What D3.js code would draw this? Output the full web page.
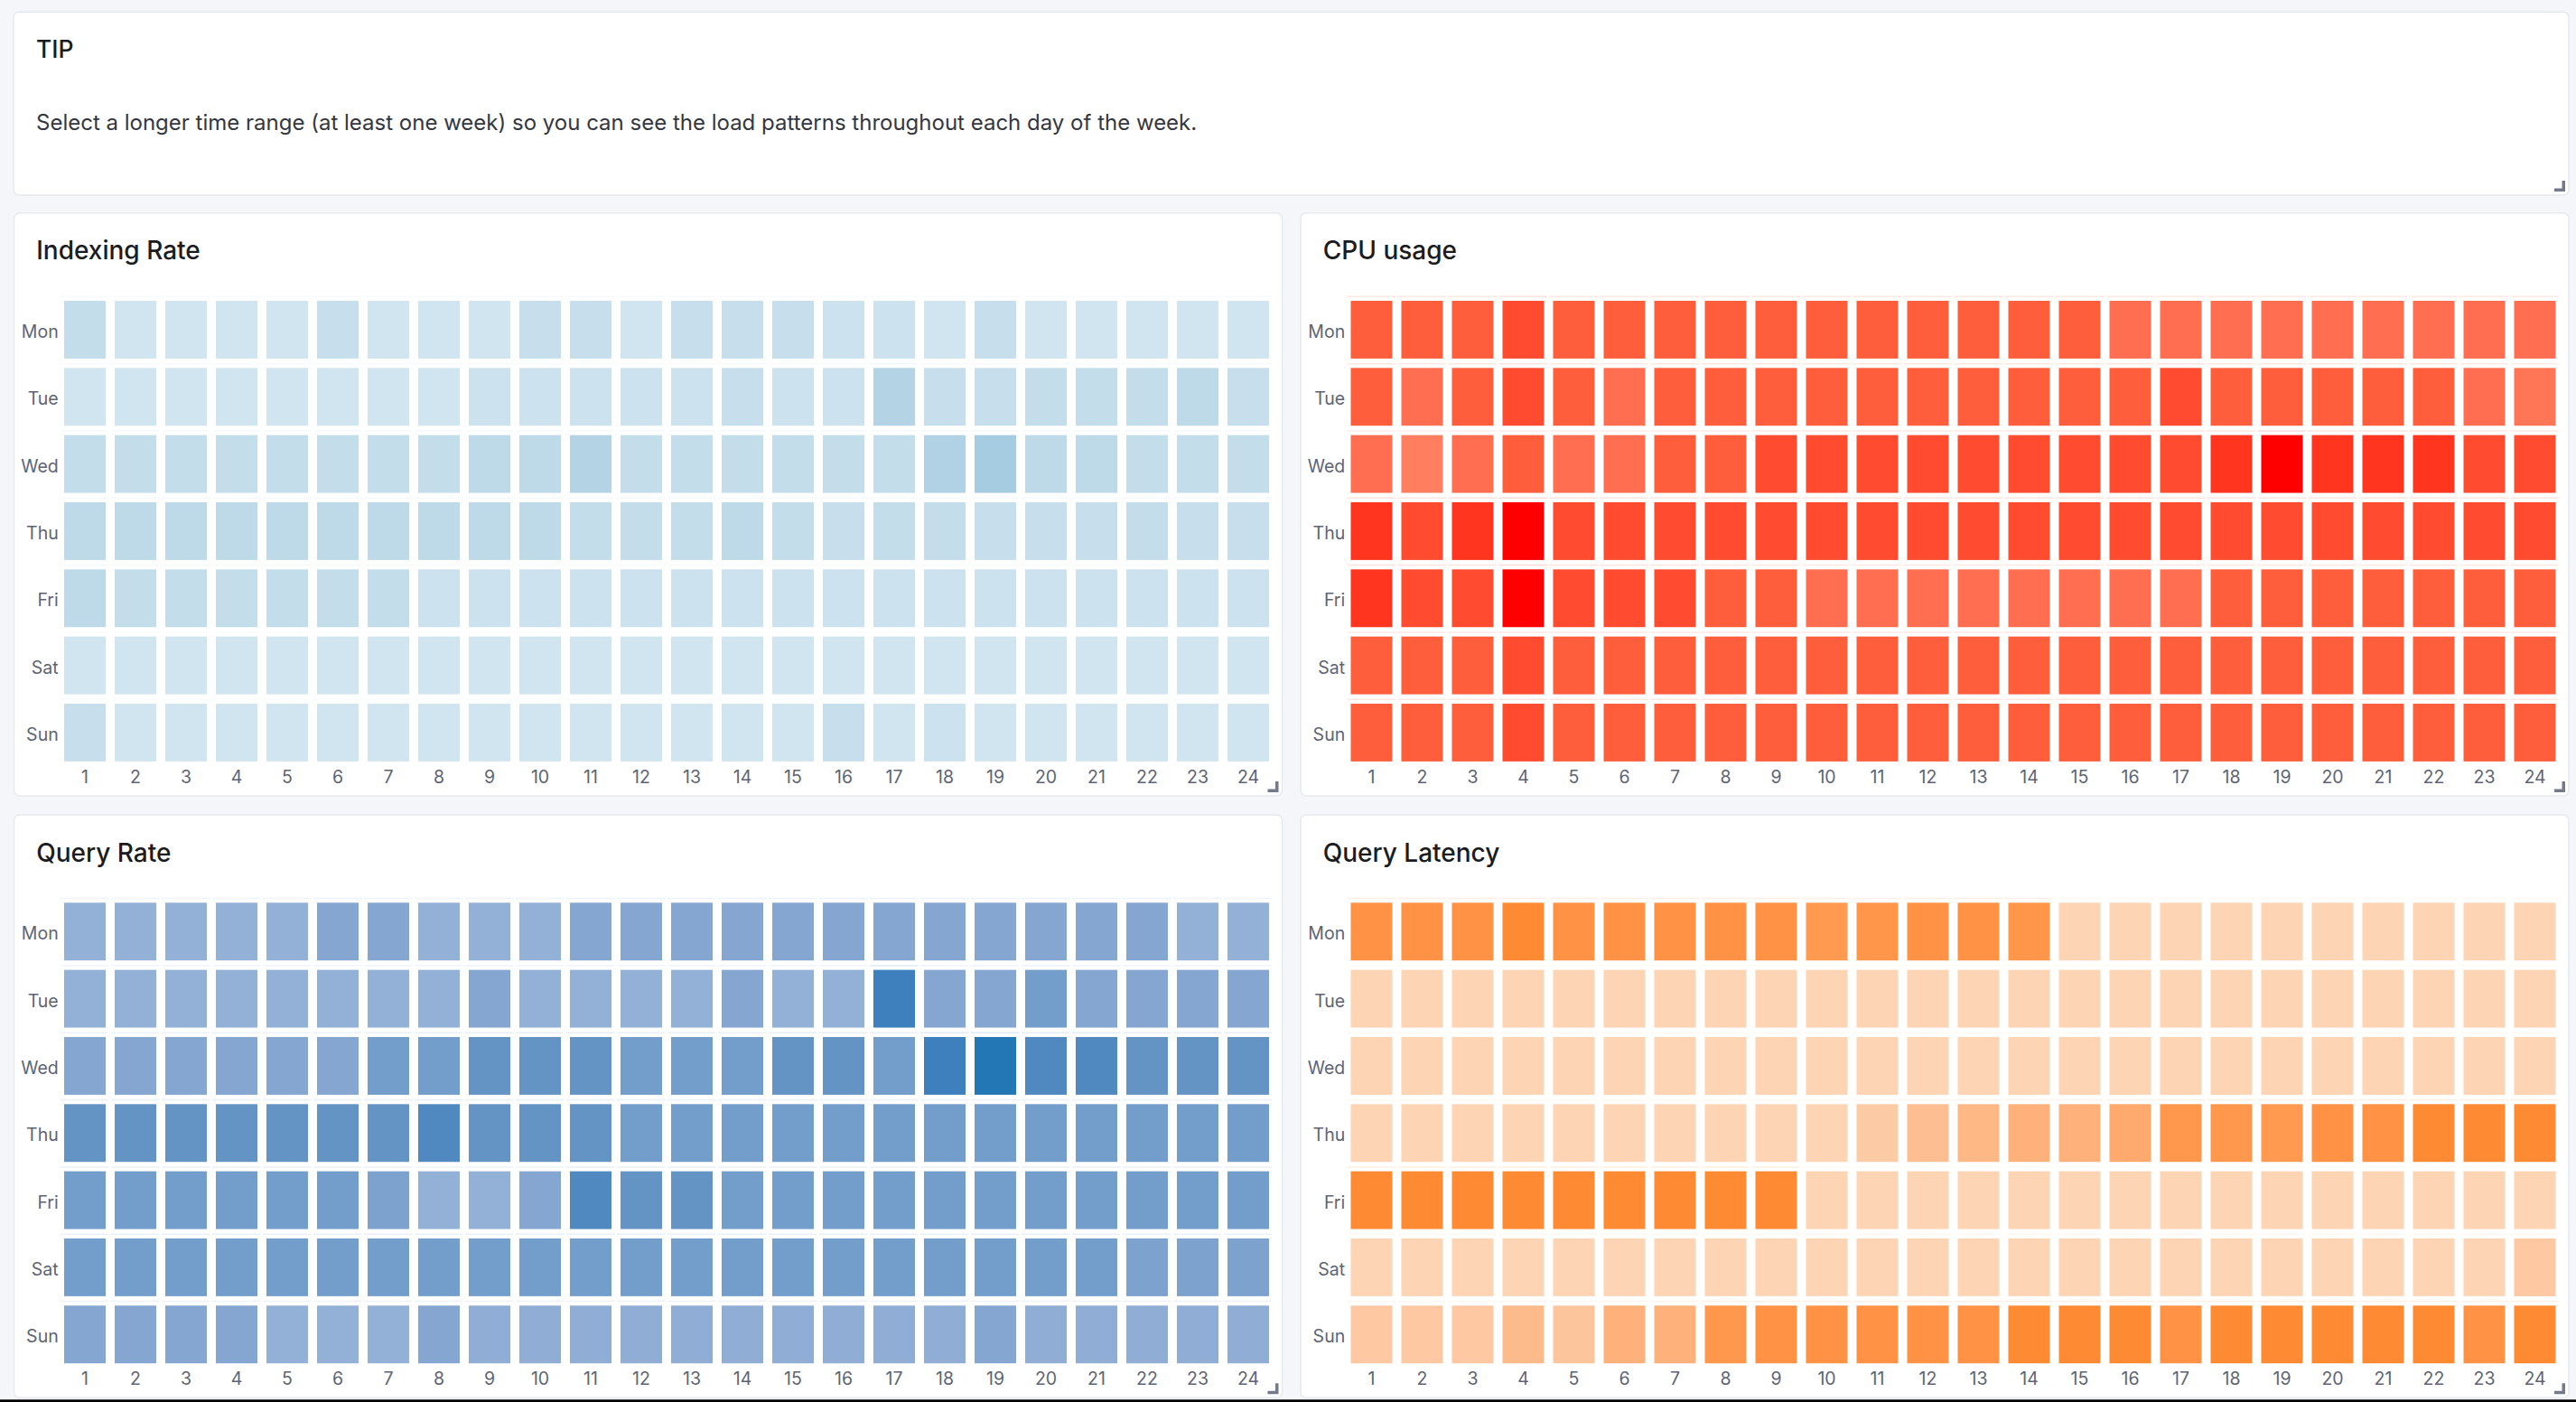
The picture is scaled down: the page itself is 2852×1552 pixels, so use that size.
<!DOCTYPE html>
<html><head><meta charset="utf-8">
<script src="https://cdn.jsdelivr.net/npm/d3@7"></script>
<style>
html,body{margin:0;padding:0;background:#f5f6f9;overflow:hidden;}
svg{display:block;}
text{font-family:Inter,"Noto Sans",sans-serif;}
</style></head><body>
<svg id="chart" width="2852" height="1552"></svg>
<script>
// ---------- data ----------
const days = ["Mon","Tue","Wed","Thu","Fri","Sat","Sun"];
const hours = ["1","2","3","4","5","6","7","8","9","10","11","12","13","14","15","16","17","18","19","20","21","22","23","24"];

const tipTitle = "TIP";
const tipText = "Select a longer time range (at least one week) so you can see the load patterns throughout each day of the week.";

const indexingRate = [
  [4,1,1,1,1,3,1,1,1,3,3,1,3,3,3,2,2,1,3,1,1,1,1,1],
  [1,1,1,1,1,1,1,1,2,2,2,2,2,3,2,2,7,3,3,4,4,4,5,3],
  [4,4,4,4,4,4,4,4,5,5,7,4,4,4,4,4,4,8,10,5,5,4,4,4],
  [5,5,5,5,5,5,5,5,5,5,4,4,4,5,4,3,4,4,3,3,3,4,3,3],
  [5,4,4,4,4,4,4,2,2,2,2,2,2,2,2,2,2,2,2,2,2,2,2,2],
  [1,1,1,1,1,1,1,1,1,1,1,1,1,1,1,1,1,1,1,1,1,1,1,1],
  [3,1,1,1,1,1,1,1,1,1,1,1,1,1,1,3,1,2,1,1,1,1,1,1]
];
const cpuUsage = [
  [3,3,3,4,3,3,3,3,3,3,3,3,3,3,3,2,2,2,2,2,2,2,2,2],
  [3,2,3,4,3,2,3,3,3,3,3,3,3,3,3,3,4,3,3,3,3,3,2,1],
  [2,0.4,2,3,2,2,3,3,4,4,4,4,4,4,4,4,4,5,6,5,5,5,4,4],
  [5,4,5,6,4,4,4,4,4,4,4,4,4,4,4,4,4,4,4,4,4,4,4,4],
  [5,4,4,6,4,4,4,3,3,2,2,2,2,2,2,2,2,3,3,3,3,3,3,3],
  [3,3,3,4,3,3,3,3,3,3,3,3,3,3,3,3,3,3,3,3,3,3,3,3],
  [3,3,3,4,3,3,3,3,3,3,3,3,3,3,3,3,3,3,3,3,3,3,3,3]
];
const queryRate = [
  [0,0,0,0,0,1,1,0,0,0,1,1,1,1,1,1,1,1,1,1,1,1,0,0],
  [0,0,0,0,0,0,0,0,1,0,0,0,0,1,0,0,5,1,1,2,1,1,1,1],
  [1,1,1,1,1,1,2,2,3,3,3,2,2,2,3,3,2,5,6,4,4,3,3,3],
  [3,3,3,3,3,3,3,4,3,3,3,2,2,2,2,2,2,2,2,2,2,2,2,2],
  [2,2,2,2,2,2,1.5,0,0,1,4,3,3,2,2,2,2,2,2,2,2,2,2,2],
  [2,2,2,2,2,2,2,2,2,2,2,2,2,2,2,2,2,2,2,2,2,1.5,1.5,1.5],
  [1,1,1,1,0,0,0,1,0.2,0.2,0.2,0.2,0.2,0.2,0.2,0.2,0.2,0.2,1,0.2,0.2,0.2,0.2,0.2]
];
const queryLatency = [
  [5,5,5,6,5,5,5,5,5,4,4.5,5,5,4.5,0,0,0,0,0,0,0,0,0,0],
  [0,0,0,0,0,0,0,0,0,0,0,0,0,0,0,0,0,0,0,0,0,0,0,0],
  [0,0,0,0,0,0,0,0,0,0,0,0,0,0,0,0,0,0,0,0,0,0,0,0],
  [0,0,0,0,0,0,0,0,0,0,0.8,1.6,2,2.5,2.5,3,4.3,4.3,4,5,5,6,6,6],
  [6,6,6,6,6,6,6,6,6,0,0,0,0,0,0,0,0,0,0,0,0,0,0,0],
  [0,0,0,0,0,0,0,0,0,0,0,0,0,0,0,0,0,0,0,0,0,0,0,1],
  [1,1,1,1.8,1.2,2.5,2.5,4.3,5,5,5,5,5,6,6,6,5,6,6,6,6,6,5,6]
];

const indexingColors = ["#d1e5f0","#a6cce1"];
const cpuColors = ["#ff8466","#ff7656","#ff6e50","#ff5e3c","#ff4b30","#ff3520","#ff0000"];
const queryRateColors = ["#93b0d6","#84a6d0","#739dca","#6494c4","#5089c0","#3d80bd","#2277b4"];
const latencyColors = ["#fdd4b4","#fdc8a2","#fdb886","#fea96d","#ff9a50","#ff9244","#ff8a34"];

// ---------- drawing ----------
const svg = d3.select("#chart");
svg.append("rect").attr("width",2852).attr("height",1552).attr("fill","#f5f6f9");

function panel(x, y, w, h) {
  svg.append("rect").attr("x",x).attr("y",y).attr("width",w).attr("height",h)
    .attr("rx",6).attr("fill","#fff").attr("stroke","#e6e9ee").attr("stroke-width",1.5);
  const cx = x + w - 4, cy = y + h - 4;
  svg.append("path")
    .attr("d",`M${cx},${cy-12}V${cy}H${cx-12}V${cy-3.5}H${cx-3.5}V${cy-12}Z`)
    .attr("fill","#747a89");
}

function heatmap(px, py, title, data, colors) {
  panel(px, py, 1404, 645.3);
  svg.append("text").attr("x",px+24.7).attr("y",py+51.6)
    .attr("font-size",28).attr("font-weight",500).attr("fill","#1a1c21").text(title);

  const x = d3.scaleBand().domain(hours).range([px+50.5, px+50.5+1344]);
  const y = d3.scaleBand().domain(days).range([py+92.1, py+92.1+520.3]);
  const color = d3.scaleLinear()
    .domain(colors.length === 2 ? d3.extent(data.flat()) : d3.range(colors.length))
    .range(colors).interpolate(d3.interpolateRgb).clamp(true);

  const cells = [];
  data.forEach((row,i) => row.forEach((v,j) => cells.push({day:days[i], hour:hours[j], v})));

  const g = svg.append("g");
  g.selectAll("line.sep").data(cells).join("line")
    .attr("x1", d => x(d.hour)+1).attr("x2", d => x(d.hour)+x.bandwidth()-1.5)
    .attr("y1", d => y(d.day)+0.5).attr("y2", d => y(d.day)+0.5)
    .attr("stroke", d => color(d.v)).attr("stroke-opacity",0.15).attr("stroke-width",1.5);

  const inX = 5, inY = 5.2;
  g.selectAll("rect.cell").data(cells).join("rect")
    .attr("x", d => x(d.hour)+inX).attr("y", d => y(d.day)+inY)
    .attr("width", x.bandwidth()-2*inX).attr("height", y.bandwidth()-2*inY)
    .attr("fill", d => color(d.v));

  const ax = svg.append("g").attr("transform",`translate(${px+50.5-1.3},0)`)
    .call(d3.axisLeft(y).tickSize(0).tickPadding(0));
  ax.select(".domain").remove();
  ax.selectAll("text").attr("font-size",19.5).attr("fill","#5e6474")
    .attr("font-family","Inter, 'Noto Sans', sans-serif").attr("dy","0.46em");

  const bx = svg.append("g").attr("transform",`translate(0,${py+92.1+520.3})`)
    .call(d3.axisBottom(x).tickSize(0).tickPadding(5));
  bx.select(".domain").remove();
  bx.selectAll("text").attr("font-size",19.5).attr("fill","#5e6474")
    .attr("font-family","Inter, 'Noto Sans', sans-serif");
}

// TIP panel
panel(15, 13.3, 2829, 202.7);
svg.append("text").attr("x",40).attr("y",64).attr("font-size",26.5).attr("font-weight",500)
  .attr("fill","#1a1c21").text(tipTitle);
svg.append("text").attr("x",40).attr("y",144).attr("font-size",24)
  .attr("fill","#343741").text(tipText);

heatmap(15.5, 235.7, "Indexing Rate", indexingRate, indexingColors);
heatmap(1440, 235.7, "CPU usage", cpuUsage, cpuColors);
heatmap(15.5, 902, "Query Rate", queryRate, queryRateColors);
heatmap(1440, 902, "Query Latency", queryLatency, latencyColors);

svg.append("rect").attr("x",0).attr("y",1549.3).attr("width",2852).attr("height",3).attr("fill","#000");
</script>
</body></html>
